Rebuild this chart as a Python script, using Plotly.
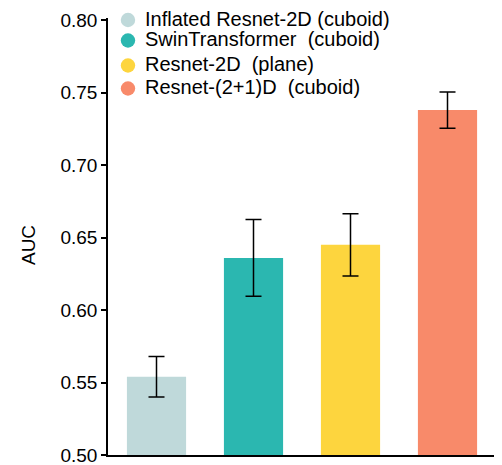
import plotly.graph_objects as go

categories = ["Inflated Resnet-2D (cuboid)", "SwinTransformer  (cuboid)", "Resnet-2D  (plane)", "Resnet-(2+1)D  (cuboid)"]
auc_values = [0.554, 0.636, 0.645, 0.738]
auc_errors = [0.014, 0.0265, 0.0215, 0.0125]
colors = ["#BFD9DA", "#2BB7B0", "#FDD53E", "#F88A6A"]
y_ticks = [0.50, 0.55, 0.60, 0.65, 0.70, 0.75, 0.80]

FONT = "Arial, Liberation Sans, sans-serif"

fig = go.Figure()
fig.add_trace(go.Bar(
    x=categories, y=auc_values,
    marker=dict(color=colors, line=dict(width=0)),
    width=0.61,
    error_y=dict(type="data", array=auc_errors, color="black", thickness=1.5, width=8),
    showlegend=False,
))

# custom legend (circle markers + labels) placed in paper coordinates
legend_x_marker = 0.0515
legend_x_text = 0.0905
legend_rows_y = [0.9954, 0.9485, 0.8913, 0.8387]
annotations = []
shapes = []
for name, c, ly in zip(categories, colors, legend_rows_y):
    shapes.append(dict(
        type="circle", xref="paper", yref="paper",
        xsizemode="pixel", ysizemode="pixel",
        xanchor=legend_x_marker, yanchor=ly,
        x0=-7.2, x1=7.2, y0=-7.2, y1=7.2,
        fillcolor=c, line=dict(width=0), layer="above",
    ))
    annotations.append(dict(
        text=name, xref="paper", yref="paper", x=legend_x_text, y=ly,
        yshift=1.3, showarrow=False, xanchor="left", yanchor="middle",
        font=dict(size=20),
    ))
annotations.append(dict(
    text="AUC", xref="paper", yref="paper", x=0, y=0.4805,
    xshift=-80, showarrow=False, textangle=-90,
    xanchor="center", yanchor="middle", font=dict(size=19),
))

fig.update_layout(
    width=502, height=465,
    margin=dict(l=100, r=14, t=10, b=18, autoexpand=False),
    plot_bgcolor="white", paper_bgcolor="white",
    font=dict(family=FONT, size=19, color="black"),
    showlegend=False,
    bargap=0.39,
    annotations=annotations,
    shapes=shapes,
)
fig.update_xaxes(
    range=[-0.5, 3.5], showticklabels=False, ticks="",
    showline=True, linecolor="black", linewidth=1.5, showgrid=False, zeroline=False,
    automargin=False,
)
fig.update_yaxes(
    range=[0.5, 0.8015], tickvals=y_ticks, tickformat=".2f",
    ticks="outside", ticklen=5, tickwidth=1.5, tickcolor="black",
    showline=True, linecolor="black", linewidth=1.5, showgrid=False, zeroline=False,
    automargin=False,
)

fig.write_html("out.html")
